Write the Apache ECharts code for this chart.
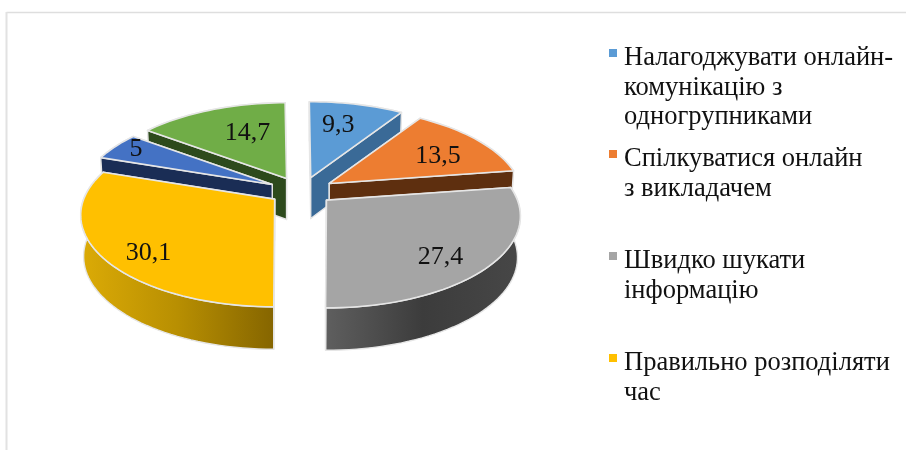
<!DOCTYPE html>
<html>
<head>
<meta charset="utf-8">
<style>
  html, body { margin: 0; padding: 0; background: #fff; }
  #chart { width: 906px; height: 450px; }
</style>
<script src="https://cdn.jsdelivr.net/npm/echarts@6/dist/echarts.min.js"></script>
</head>
<body>
<div id="chart"></div>
<script>
// values as printed on the slices, clockwise from 12 o'clock
const sliceValues = [9.3, 13.5, 27.4, 30.1, 5, 14.7];
const sliceLabels = ["9,3", "13,5", "27,4", "30,1", "5", "14,7"];
const legendLabels = [
  "Налагоджувати онлайн-\nкомунікацію з\nодногрупниками",
  "Спілкуватися онлайн\nз викладачем",
  "Швидко шукати\nінформацію",
  "Правильно розподіляти\nчас"
];

// styling
const topColors = ["#5b9bd5", "#ed7d31", "#a5a5a5", "#ffc000", "#4472c4", "#70ad47"];
const wallColors = ["#3a6a97", "#5e2f0f", "#404040", "#8a6a00", "#1a2d55", "#2d4a1c"];
const rimGradients = [
  null, null,
  ["#5f5f5f", "#3c3c3c", "#474747"],
  ["#dcab06", "#b88f02", "#856500"],
  null, null
];
// back slices first so the front ones cover them
const drawOrder = [5, 0, 1, 4, 2, 3];
// where the number sits, as a fraction of the slice radius (x, y)
const labelFractions = [[0.6, 0.74], [0.74, 0.65], [0.7, 0.85], [0.73, 0.91], [0.87, 0.97], [0.52, 0.68]];
const legendTops = [49, 150, 252, 354];

// fake 3d projection of the pie
const centerX = 301.5, centerY = 191;
const explodeX = 33, explodeY = 14;
const radiusX = 191, radiusY = 89;
const perspective = 0.174;
const sliceDepth = 41;
const startAngle = -0.5;
const outline = "#e6e6e6";

const total = sliceValues.reduce((a, b) => a + b, 0);
const rad = d => d * Math.PI / 180;

const sliceAngles = [];
let running = startAngle;
sliceValues.forEach(v => {
  const sweep = v / total * 360;
  sliceAngles.push([running, running + sweep]);
  running += sweep;
});

function rimOffset(deg, scale) {
  const u = Math.cos(rad(deg));
  const s = 1 / (1 + perspective * u);
  return [Math.sin(rad(deg)) * radiusX * s * scale, -u * radiusY * s * scale];
}

function renderSlice(params) {
  const order = params.dataIndex;
  const i = drawOrder[order];
  const [a0, a1] = sliceAngles[i];
  const mid = rad((a0 + a1) / 2);
  const ax = centerX + Math.sin(mid) * explodeX;
  const ay = centerY - Math.cos(mid) * explodeY;

  const topAt = deg => {
    const o = rimOffset(deg, 1);
    return [ax + o[0], ay + o[1]];
  };
  const bottomAt = deg => {
    const o = rimOffset(deg, 0.985);
    const u = Math.cos(rad(deg));
    return [ax + o[0], ay + o[1] + sliceDepth - u * 3];
  };

  const arcTop = [], arcBottom = [];
  const steps = Math.ceil((a1 - a0) / 2);
  for (let k = 0; k <= steps; k++) {
    const deg = a0 + (a1 - a0) * k / steps;
    arcTop.push(topAt(deg));
    arcBottom.push(bottomAt(deg));
  }

  const apex = [ax, ay];
  const apexLow = [ax, ay + sliceDepth];
  const base = order * 10;
  const wallStyle = { fill: wallColors[i], stroke: outline, lineWidth: 1.4, lineJoin: "round" };
  const children = [];

  // rim wall; the part at the back ends up behind the top face
  const grad = rimGradients[i];
  children.push({
    type: "polygon",
    z2: base,
    shape: { points: arcTop.concat(arcBottom.slice().reverse()) },
    style: Object.assign({}, wallStyle, {
      fill: grad ? {
        type: "linear", x: 0, y: 0, x2: 1, y2: 0,
        colorStops: [
          { offset: 0, color: grad[0] },
          { offset: 0.5, color: grad[1] },
          { offset: 1, color: grad[2] }
        ]
      } : wallColors[i]
    })
  });
  // the two cut faces, the one nearer the viewer last
  const ends = [0, arcTop.length - 1].sort((p, q) => arcTop[p][1] - arcTop[q][1]);
  ends.forEach((end, n) => {
    children.push({
      type: "polygon",
      z2: base + 1 + n,
      shape: { points: [apex, arcTop[end], arcBottom[end], apexLow] },
      style: wallStyle
    });
  });
  // top face
  children.push({
    type: "polygon",
    z2: base + 4,
    shape: { points: [apex].concat(arcTop) },
    style: { fill: topColors[i], stroke: outline, lineWidth: 1.6, lineJoin: "round" }
  });
  // value label
  const full = rimOffset((a0 + a1) / 2, 1);
  children.push({
    type: "text",
    z2: 500,
    x: ax + full[0] * labelFractions[i][0],
    y: ay + full[1] * labelFractions[i][1] + 1.5,
    style: {
      text: sliceLabels[i],
      fill: "#111",
      font: '26px "Liberation Serif"',
      align: "center",
      verticalAlign: "middle"
    }
  });
  return { type: "group", children };
}

const legendGraphics = [];
legendLabels.forEach((label, i) => {
  legendGraphics.push({
    type: "rect",
    shape: { x: 609, y: legendTops[i], width: 8, height: 8 },
    style: { fill: topColors[i] }
  });
  legendGraphics.push({
    type: "text",
    x: 624,
    y: legendTops[i] - 6,
    style: {
      text: label,
      fill: "#111",
      font: '26.5px "Liberation Serif"',
      lineHeight: 29.8,
      verticalAlign: "top"
    }
  });
});

const chart = echarts.init(document.getElementById("chart"), null, { renderer: "canvas" });
chart.setOption({
  animation: false,
  backgroundColor: "#fff",
  graphic: [
    { type: "line", shape: { x1: 6.5, y1: 12.5, x2: 906, y2: 12.5 }, style: { stroke: "#dedede", lineWidth: 1.5 } },
    { type: "line", shape: { x1: 6.5, y1: 12, x2: 6.5, y2: 450 }, style: { stroke: "#e2e2e2", lineWidth: 2 } }
  ].concat(legendGraphics),
  series: [{
    type: "custom",
    coordinateSystem: "none",
    silent: true,
    renderItem: renderSlice,
    data: drawOrder.map(i => sliceValues[i])
  }]
});
</script>
</body>
</html>
